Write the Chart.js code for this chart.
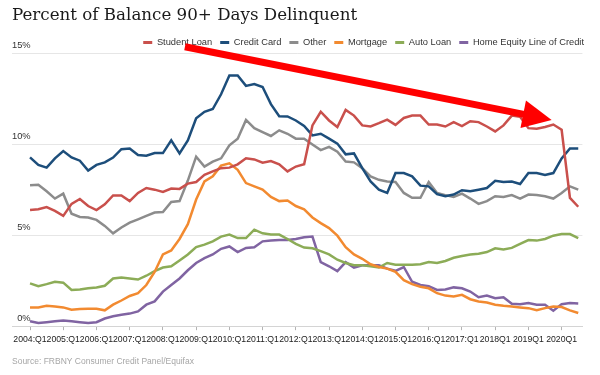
<!DOCTYPE html>
<html>
<head>
<meta charset="utf-8">
<script src="https://cdn.jsdelivr.net/npm/chart.js@4"></script>
<style>
  html, body { margin: 0; padding: 0; background: #fff; }
  #wrap { width: 600px; height: 375px; }
</style>
</head>
<body>
<div id="wrap"><canvas id="chart"></canvas></div>
<script>
// one label per year, every 4th quarter starting at 2004:Q1
const yearLabels = ['2004:Q1', '2005:Q1', '2006:Q1', '2007:Q1', '2008:Q1', '2009:Q1', '2010:Q1', '2011:Q1',
  '2012:Q1', '2013:Q1', '2014:Q1', '2015:Q1', '2016:Q1', '2017:Q1', '2018Q1', '2019Q1', '2020Q1'];

// percent of balance 90+ days delinquent, quarterly 2004Q1 .. 2020Q3
const studentLoan = [6.38, 6.42, 6.54, 6.33, 6.06, 6.72, 6.99, 6.6, 6.38, 6.69,
  7.18, 7.18, 6.87, 7.32, 7.59, 7.5, 7.38, 7.56, 7.54, 7.83,
  7.92, 8.31, 8.5, 8.68, 8.71, 8.89, 9.22, 9.16, 8.98, 9.07,
  8.89, 8.5, 8.77, 8.9, 11.03, 11.78, 11.3, 10.94, 11.88, 11.57,
  11.03, 10.97, 11.15, 11.35, 11.06, 11.44, 11.57, 11.57, 11.08, 11.08,
  10.97, 11.21, 10.99, 11.26, 11.21, 10.97, 10.7, 11.03, 11.57, 11.5,
  10.88, 10.85, 10.94, 11.08, 10.79, 7.05, 6.56];
const creditCard = [9.27, 8.86, 8.71, 9.22, 9.62, 9.27, 9.09, 8.55, 8.86, 9.0,
  9.26, 9.72, 9.76, 9.4, 9.36, 9.51, 9.51, 10.21, 9.49, 10.21,
  11.42, 11.78, 11.93, 12.74, 13.77, 13.77, 13.2, 13.3, 13.14, 12.2,
  11.53, 11.52, 11.3, 11.0, 10.48, 10.57, 10.3, 10.03, 9.44, 9.49,
  8.68, 7.95, 7.5, 7.32, 8.41, 8.41, 8.23, 7.72, 7.68, 7.25,
  7.14, 7.23, 7.47, 7.41, 7.5, 7.59, 7.99, 7.92, 7.95, 7.81,
  8.41, 8.41, 8.31, 8.41, 9.22, 9.76, 9.76];
const other = [7.74, 7.77, 7.41, 7.01, 7.28, 6.18, 6.0, 5.97, 5.84, 5.51,
  5.1, 5.42, 5.69, 5.87, 6.06, 6.24, 6.27, 6.82, 6.87, 8.0,
  9.31, 8.77, 9.04, 9.22, 9.94, 10.3, 11.33, 10.88, 10.66, 10.45,
  10.76, 10.57, 10.3, 10.3, 9.98, 9.67, 9.85, 9.58, 9.04, 9.0,
  8.68, 8.23, 8.04, 7.95, 7.92, 7.32, 7.05, 7.05, 7.92, 7.32,
  7.2, 7.1, 7.28, 7.01, 6.72, 6.87, 7.14, 7.1, 7.2, 7.01,
  7.23, 7.2, 7.14, 7.01, 7.32, 7.68, 7.5];
const mortgage = [1.03, 1.03, 1.12, 1.08, 1.03, 0.9, 0.94, 0.96, 0.96, 0.87,
  1.18, 1.41, 1.66, 1.81, 2.26, 2.98, 3.94, 4.16, 4.79, 5.6,
  6.96, 7.95, 8.23, 8.82, 8.95, 8.59, 7.86, 7.68, 7.5, 7.1,
  6.87, 6.9, 6.6, 6.42, 5.97, 5.66, 5.39, 4.97, 4.34, 3.94,
  3.7, 3.4, 3.25, 3.16, 2.98, 2.53, 2.31, 2.17, 2.08, 1.81,
  1.68, 1.63, 1.72, 1.48, 1.36, 1.3, 1.18, 1.12, 1.08, 1.03,
  0.99, 0.87, 0.99, 1.08, 1.05, 0.87, 0.72];
const autoLoan = [2.35, 2.2, 2.31, 2.44, 2.39, 1.99, 2.02, 2.08, 2.13, 2.22,
  2.62, 2.67, 2.62, 2.56, 2.77, 3.02, 3.22, 3.29, 3.61, 3.94,
  4.34, 4.48, 4.66, 4.92, 5.03, 4.84, 4.84, 5.3, 5.1, 5.03,
  5.03, 4.79, 4.52, 4.32, 4.28, 4.12, 3.94, 3.65, 3.47, 3.35,
  3.35, 3.29, 3.22, 3.47, 3.38, 3.38, 3.38, 3.4, 3.52, 3.47,
  3.58, 3.76, 3.85, 3.94, 3.98, 4.07, 4.28, 4.21, 4.3, 4.52,
  4.73, 4.7, 4.79, 4.97, 5.06, 5.06, 4.84];
const homeEquity = [0.27, 0.18, 0.22, 0.27, 0.31, 0.27, 0.22, 0.18, 0.22, 0.42,
  0.54, 0.63, 0.69, 0.81, 1.18, 1.36, 1.9, 2.26, 2.62, 3.07,
  3.47, 3.74, 3.94, 4.25, 4.38, 4.07, 4.3, 4.34, 4.66, 4.7,
  4.73, 4.73, 4.79, 4.88, 4.92, 3.52, 3.29, 3.02, 3.52, 3.22,
  3.35, 3.35, 3.35, 3.16, 3.04, 3.25, 2.44, 2.26, 2.2, 1.99,
  2.02, 2.13, 2.08, 1.9, 1.59, 1.68, 1.54, 1.59, 1.23, 1.21,
  1.27, 1.18, 1.18, 0.85, 1.21, 1.27, 1.25];

const seriesNames = ['Student Loan', 'Credit Card', 'Other', 'Mortgage', 'Auto Loan', 'Home Equity Line of Credit'];
const seriesColors = ['#c9504c', '#1d4e7b', '#8c8c8c', '#f28a30', '#8cac57', '#8064a2'];
const series = [studentLoan, creditCard, other, mortgage, autoLoan, homeEquity];

// red annotation arrow, in (quarter index, percent)
const arrowFrom = [18.65, 15.35];
const arrowTo = [62.8, 11.33];

const labelFont = 'Liberation Sans';

const arrowPlugin = {
  id: 'arrow',
  afterDatasetsDraw(chart) {
    const { ctx, scales: { x, y } } = chart;
    const x1 = x.getPixelForValue(arrowFrom[0]), y1 = y.getPixelForValue(arrowFrom[1]);
    const x2 = x.getPixelForValue(arrowTo[0]), y2 = y.getPixelForValue(arrowTo[1]);
    const ang = Math.atan2(y2 - y1, x2 - x1);
    const headLen = 29, headHalf = 14;
    const bx = x2 - Math.cos(ang) * headLen, by = y2 - Math.sin(ang) * headLen;
    ctx.save();
    ctx.strokeStyle = '#ff0000';
    ctx.fillStyle = '#ff0000';
    ctx.lineWidth = 7;
    ctx.beginPath();
    ctx.moveTo(x1, y1);
    ctx.lineTo(bx + Math.cos(ang) * 2, by + Math.sin(ang) * 2);
    ctx.stroke();
    ctx.beginPath();
    ctx.moveTo(x2, y2);
    ctx.lineTo(bx + Math.sin(ang) * headHalf, by - Math.cos(ang) * headHalf);
    ctx.lineTo(bx - Math.sin(ang) * headHalf, by + Math.cos(ang) * headHalf);
    ctx.closePath();
    ctx.fill();
    ctx.restore();
  }
};

new Chart(document.getElementById('chart'), {
  type: 'line',
  data: {
    datasets: series.map((values, k) => ({
      label: seriesNames[k],
      data: values.map((v, i) => ({ x: i, y: v })),
      borderColor: seriesColors[k],
      backgroundColor: seriesColors[k],
      borderWidth: 2.5,
      pointRadius: 0,
      tension: 0
    }))
  },
  options: {
    responsive: true,
    maintainAspectRatio: false,
    animation: false,
    layout: { padding: { left: 12, right: 8, top: 0, bottom: 0 } },
    plugins: {
      title: {
        display: true,
        text: 'Percent of Balance 90+ Days Delinquent',
        align: 'start',
        color: '#1a1a1a',
        font: { family: 'DejaVu Serif', size: 16.7, weight: 'normal' },
        padding: { top: 5.2, bottom: 4.6 }
      },
      subtitle: {
        display: true,
        position: 'bottom',
        align: 'start',
        text: 'Source: FRBNY Consumer Credit Panel/Equifax',
        color: '#a6a6a6',
        font: { family: labelFont, size: 8.5 },
        padding: { top: 8, bottom: 8.2 }
      },
      legend: {
        position: 'top',
        align: 'end',
        maxHeight: 23.3,
        labels: {
          boxWidth: 9,
          boxHeight: 3,
          padding: 8,
          color: '#333',
          font: { family: labelFont, size: 9.3 },
          generateLabels: chart => Chart.defaults.plugins.legend.labels.generateLabels(chart)
            .map(item => ({ ...item, fillStyle: item.strokeStyle, lineWidth: 0 }))
        }
      },
      tooltip: { enabled: false }
    },
    scales: {
      x: {
        type: 'linear',
        min: -2.17,
        max: 66.5,
        afterBuildTicks: scale => {
          scale.ticks = yearLabels.map((_, k) => ({ value: k * 4 }));
        },
        ticks: {
          autoSkip: false,
          maxRotation: 0,
          padding: 4,
          color: '#222',
          font: { family: labelFont, size: 8.7 },
          callback: (value, index) => yearLabels[index]
        },
        grid: { drawOnChartArea: false, tickLength: 4, color: '#b3b3b3' },
        border: { color: '#d4d4d4' }
      },
      y: {
        min: 0,
        max: 15,
        ticks: {
          stepSize: 5,
          mirror: true,
          crossAlign: 'far',
          padding: 0,
          labelOffset: -7.5,
          color: '#333',
          font: { family: labelFont, size: 9.3 },
          callback: value => value + '%'
        },
        grid: { drawTicks: false, color: '#e6e6e6' },
        border: { display: false }
      },
      yRight: {
        position: 'right',
        grid: { display: false },
        ticks: { display: false },
        border: { display: false },
        afterFit: scale => { scale.width = 9.6; }
      }
    }
  },
  plugins: [arrowPlugin]
});
</script>
</body>
</html>
